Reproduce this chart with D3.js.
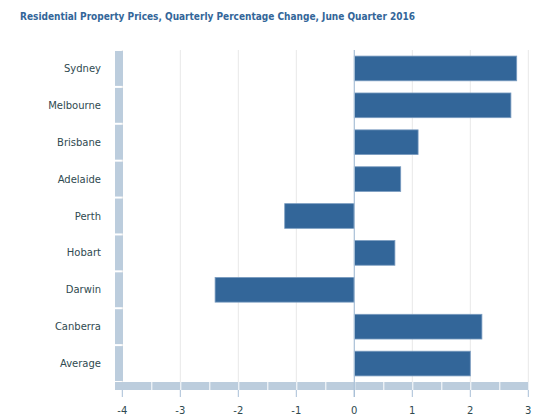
<!DOCTYPE html>
<html><head><meta charset="utf-8">
<script src="https://cdn.jsdelivr.net/npm/d3@7"></script>
<style>body{margin:0;background:#fff}svg{display:block}</style>
</head><body>
<script>
const categories = ["Sydney","Melbourne","Brisbane","Adelaide","Perth","Hobart","Darwin","Canberra","Average"];
const values = [2.8, 2.7, 1.1, 0.8, -1.2, 0.7, -2.4, 2.2, 2.0];
const xTicks = [-4,-3,-2,-1,0,1,2,3];
const title = "Residential Property Prices, Quarterly Percentage Change, June Quarter 2016";

const W = 554, H = 419;
const svg = d3.select("body").append("svg").attr("width", W).attr("height", H);
const font = "DejaVu Sans, Verdana, sans-serif";

const t = svg.append("text").attr("x", 20).attr("y", 20).text(title)
  .attr("font-family", "DejaVu Sans Condensed, DejaVu Sans, sans-serif")
  .attr("font-stretch", "condensed")
  .attr("font-size", 10).attr("font-weight", "bold").attr("fill", "#336699");
// fit title to reference width
const tw = t.node().getComputedTextLength();
if (tw > 0) t.attr("textLength", 395).attr("lengthAdjust", "spacingAndGlyphs");

const x = d3.scaleLinear().domain([-4, 3]).range([122.3, 528.3]);
const y = d3.scaleBand().domain(categories).range([50, 382]).paddingInner(0.33).paddingOuter(0.165);
const yb = d3.scaleBand().domain(categories).range([50, 382]);

const wall = "#bccddd";
svg.append("g").selectAll("line").data(xTicks.filter(d => d !== 0)).join("line")
  .attr("x1", d => x(d)).attr("x2", d => x(d)).attr("y1", 50).attr("y2", 382)
  .attr("stroke", "#e8e8e8").attr("stroke-width", 1);

svg.append("g").selectAll("rect").data(categories).join("rect")
  .attr("x", 115).attr("width", 8)
  .attr("y", d => yb(d) + 1).attr("height", yb.bandwidth() - 2)
  .attr("fill", wall);

const halfSteps = d3.range(-4, 3, 0.5);
svg.append("g").selectAll("rect").data(halfSteps).join("rect")
  .attr("x", (d, i) => i === 0 ? 115 : x(d) + 1)
  .attr("width", (d, i) => x(d + 0.5) - (i === 0 ? 115 : x(d) + 1))
  .attr("y", 382).attr("height", 8).attr("fill", wall);

svg.append("g").selectAll("line").data(xTicks).join("line")
  .attr("x1", d => x(d)).attr("x2", d => x(d)).attr("y1", 390).attr("y2", 397)
  .attr("stroke", "#a8bfd6").attr("stroke-width", 1);

svg.append("g").selectAll("rect").data(categories).join("rect")
  .attr("x", (d, i) => x(Math.min(0, values[i])))
  .attr("width", (d, i) => Math.abs(x(values[i]) - x(0)))
  .attr("y", d => y(d)).attr("height", y.bandwidth())
  .attr("fill", "#336699").attr("stroke", "#7a9cc0").attr("stroke-width", 0.8);

svg.append("line").attr("x1", x(0)).attr("x2", x(0)).attr("y1", 50).attr("y2", 397)
  .attr("stroke", "#a8bfd6").attr("stroke-width", 1.2);

svg.append("g").selectAll("text").data(categories).join("text")
  .attr("x", 101).attr("y", d => yb(d) + yb.bandwidth() / 2 + 3.5)
  .attr("text-anchor", "end").text(d => d)
  .attr("font-family", font).attr("font-size", 10).attr("fill", "#2f4a50");

svg.append("g").selectAll("text").data(xTicks).join("text")
  .attr("x", d => x(d)).attr("y", 414).attr("text-anchor", "middle").text(d => d)
  .attr("font-family", font).attr("font-size", 10).attr("fill", "#2f4a50");
</script>
</body></html>
